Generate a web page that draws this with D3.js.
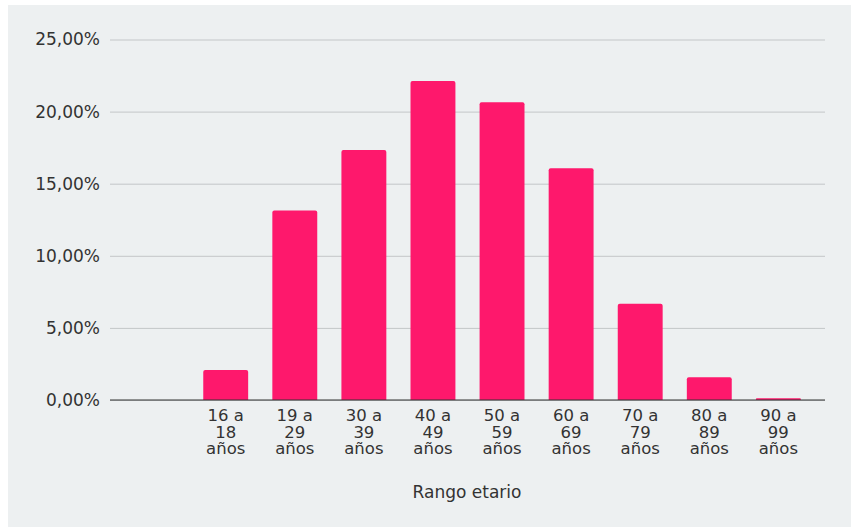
<!DOCTYPE html>
<html>
<head>
<meta charset="utf-8">
<script src="https://cdn.jsdelivr.net/npm/d3@7"></script>
<style>
  html, body { margin: 0; padding: 0; background: #ffffff; }
  svg { display: block; }
  text { font-family: "DejaVu Sans", Verdana, sans-serif; fill: #333333; }
</style>
</head>
<body>
<svg id="chart" width="858" height="527"></svg>
<script>
// Age ranges (first slot intentionally empty) and their share of the total
const categories = ["", "16 a 18 años", "19 a 29 años", "30 a 39 años", "40 a 49 años",
                    "50 a 59 años", "60 a 69 años", "70 a 79 años", "80 a 89 años", "90 a 99 años"];
const shares = [null, 2.08, 13.15, 17.34, 22.13, 20.65, 16.07, 6.67, 1.58, 0.12];
const yTicks = [0, 5, 10, 15, 20, 25];
const xTitle = "Rango etario";

const svg = d3.select("#chart");
const plot = { left: 110, right: 825, top: 39.5, bottom: 400 };

// panel background
svg.append("rect")
  .attr("x", 8).attr("y", 5)
  .attr("width", 843).attr("height", 522)
  .attr("fill", "#edf0f1");

const x = d3.scaleBand()
  .domain(categories.map((c, i) => i))
  .range([plot.left, plot.right])
  .paddingInner(0.35)
  .paddingOuter(0.35);

const y = d3.scaleLinear()
  .domain([0, 25])
  .range([plot.bottom, plot.top]);

const fmt = v => d3.format(".2f")(v).replace(".", ",") + "%";

// horizontal gridlines + y labels
const yAxis = d3.axisLeft(y)
  .tickValues(yTicks)
  .tickSize(-(plot.right - plot.left))
  .tickPadding(10)
  .tickFormat(fmt);

const gy = svg.append("g")
  .attr("transform", `translate(${plot.left},0)`)
  .call(yAxis);
gy.select(".domain").remove();
gy.selectAll(".tick line").attr("stroke", "#c3c6c8").attr("stroke-width", 1);
gy.selectAll(".tick text")
  .attr("font-size", 17)
  .attr("fill", "#333333")
  .style("font-family", "DejaVu Sans, Verdana, sans-serif");

// bars with slightly rounded tops
const r = 2;
svg.append("g").selectAll("path")
  .data(shares.map((v, i) => ({ v, i })).filter(d => d.v != null))
  .join("path")
  .attr("fill", "#fe186c")
  .attr("d", d => {
    const x0 = x(d.i), w = x.bandwidth();
    const y0 = y(d.v), yb = y(0);
    const rr = Math.min(r, (yb - y0) / 2);
    return `M${x0},${yb} V${y0 + rr} Q${x0},${y0} ${x0 + rr},${y0} H${x0 + w - rr} Q${x0 + w},${y0} ${x0 + w},${y0 + rr} V${yb} Z`;
  });

// baseline
svg.append("line")
  .attr("x1", plot.left).attr("x2", plot.right)
  .attr("y1", y(0)).attr("y2", y(0))
  .attr("stroke", "#333333").attr("stroke-width", 1.2);

// category labels, wrapped on three lines
const xl = svg.append("g");
categories.forEach((c, i) => {
  if (!c) return;
  const parts = c.split(" ");
  const lines = [parts[0] + " " + parts[1], parts[2], parts[3]];
  const cx = x(i) + x.bandwidth() / 2;
  const t = xl.append("text")
    .attr("text-anchor", "middle")
    .attr("font-size", 16.5)
    .attr("x", cx)
    .attr("y", 421);
  lines.forEach((ln, k) => {
    t.append("tspan")
      .attr("x", cx)
      .attr("dy", k === 0 ? 0 : 16.6)
      .text(ln);
  });
});

// axis title
svg.append("text")
  .attr("x", 467).attr("y", 498)
  .attr("text-anchor", "middle")
  .attr("font-size", 17)
  .text(xTitle);
</script>
</body>
</html>
